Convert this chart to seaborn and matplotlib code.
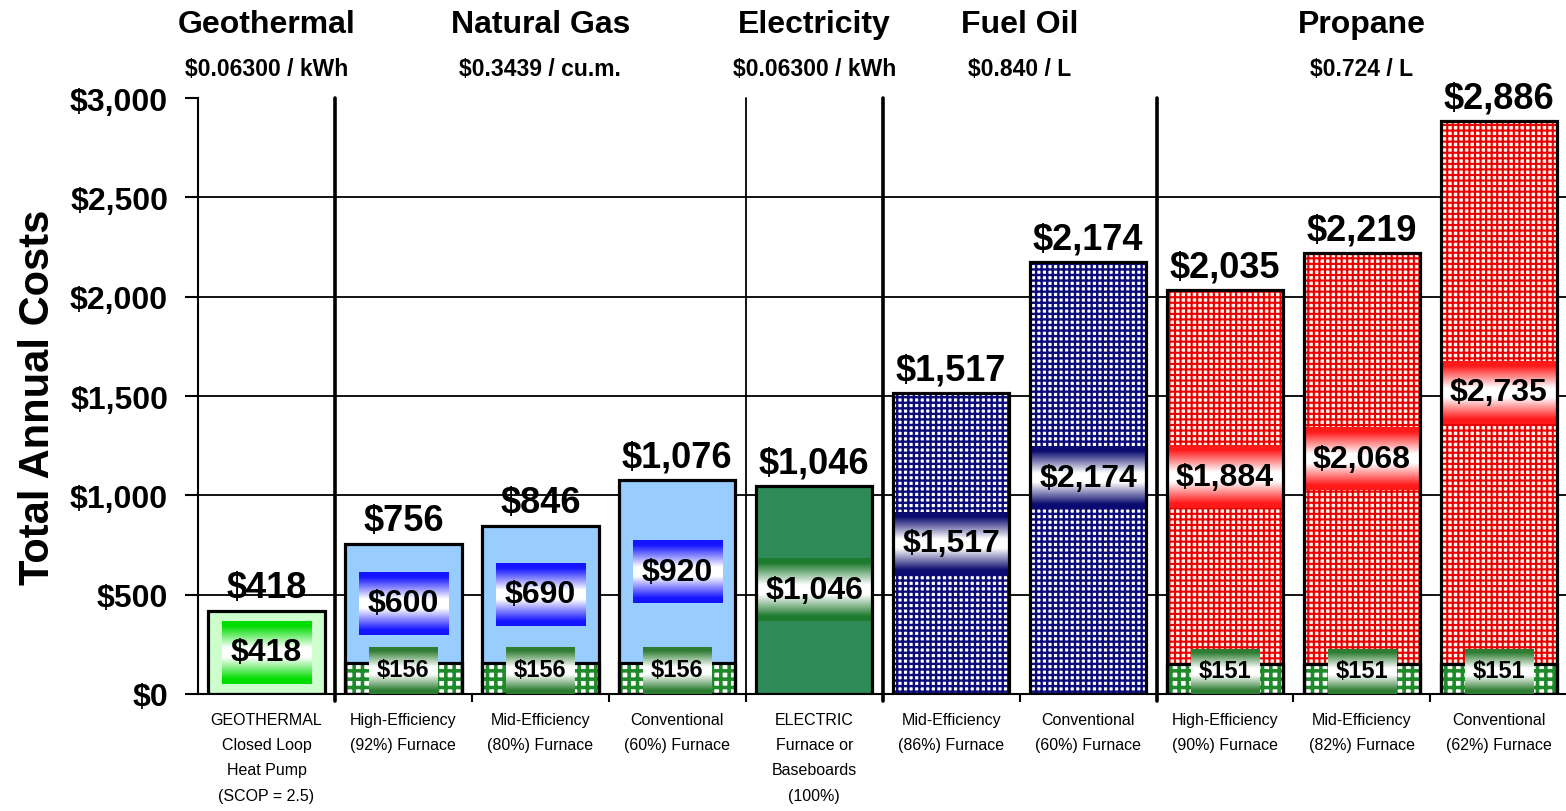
import matplotlib
matplotlib.use('Agg')
import matplotlib.pyplot as plt
import matplotlib.colors as mcolors
from matplotlib import font_manager
from matplotlib.transforms import blended_transform_factory
import numpy as np
import pandas as pd
import seaborn as sns

# chart data
systems = ['GEOTHERMAL\nClosed Loop\nHeat Pump\n(SCOP = 2.5)',
           'High-Efficiency\n(92%) Furnace',
           'Mid-Efficiency\n(80%) Furnace',
           'Conventional\n(60%) Furnace',
           'ELECTRIC\nFurnace or\nBaseboards\n(100%)',
           'Mid-Efficiency\n(86%) Furnace',
           'Conventional\n(60%) Furnace',
           'High-Efficiency\n(90%) Furnace',
           'Mid-Efficiency\n(82%) Furnace',
           'Conventional\n(62%) Furnace']
groups = ['Geothermal', 'Natural Gas', 'Natural Gas', 'Natural Gas', 'Electricity',
          'Fuel Oil', 'Fuel Oil', 'Propane', 'Propane', 'Propane']
fuel_cost = [418, 600, 690, 920, 1046, 1517, 2174, 1884, 2068, 2735]
elec_cost = [0, 156, 156, 156, 0, 0, 0, 151, 151, 151]
total_cost = [418, 756, 846, 1076, 1046, 1517, 2174, 2035, 2219, 2886]
group_names = ['Geothermal', 'Natural Gas', 'Electricity', 'Fuel Oil', 'Propane']
group_prices = ['$0.06300 / kWh', '$0.3439 / cu.m.', '$0.06300 / kWh', '$0.840 / L', '$0.724 / L']
y_ticks = [0, 500, 1000, 1500, 2000, 2500, 3000]

sns.set_style('white')
plt.rcParams['font.family'] = ['Liberation Sans', 'DejaVu Sans']
plt.rcParams['hatch.linewidth'] = 1.0
for k in ['text.color', 'axes.labelcolor', 'xtick.color', 'ytick.color']:
    plt.rcParams[k] = 'black'

installed = {f.name for f in font_manager.fontManager.ttflist}
narrow = 'Liberation Sans Narrow' in installed
cat_font = 'Liberation Sans Narrow' if narrow else 'Liberation Sans'
cat_size = 13 if narrow else 11.5

df = pd.DataFrame({'idx': range(len(systems)), 'group': groups, 'fuel': fuel_cost,
                   'elec': elec_cost, 'total': total_cost})

# face colour, hatch colour, hatch, hatch width
fill_style = {
    'Geothermal': ('#CCFFCC', None, '', 1.0),
    'Natural Gas': ('#99CCFF', None, '', 1.0),
    'Electricity': ('#2E8B57', None, '', 1.0),
    'Fuel Oil': ('white', '#0B0B7A', '+++', 1.7),
    'Propane': ('#FFF2EC', '#E80000', '+++', 1.5),
}
# label band colour, band width
band_style = {
    'Geothermal': ('#00DD00', 0.65),
    'Natural Gas': ('#1414FF', 0.65),
    'Electricity': ('#1E7B2E', 0.85),
    'Fuel Oil': ('#0B0B70', 0.85),
    'Propane': ('#FF1A1A', 0.85),
}


def gradient_band(ax, xc, w, yc, h, color, z):
    t = np.linspace(-1, 1, 101)
    m = np.clip((np.abs(t) - 0.15) / 0.7, 0, 1)
    rgb = np.array(mcolors.to_rgb(color))
    img = (1 - m)[:, None] * np.ones(3) + m[:, None] * rgb
    ax.imshow(img[:, None, :], extent=[xc - w / 2, xc + w / 2, yc - h / 2, yc + h / 2],
              aspect='auto', interpolation='bilinear', zorder=z)


def set_hatch_lw(p, lw):
    if hasattr(p, 'set_hatch_linewidth'):
        p.set_hatch_linewidth(lw)


fig, ax = plt.subplots(figsize=(15.66, 8.12), dpi=100)
fig.subplots_adjust(left=198 / 1566, right=1.0, bottom=117 / 812, top=713 / 812)

# fuel part (full bar fill)
n0 = len(ax.patches)
with plt.rc_context({'hatch.linewidth': 1.6}):
    sns.barplot(data=df, x='idx', y='total', color='white', width=0.85,
                errorbar=None, saturation=1, ax=ax)
for p, g in zip(ax.patches[n0:], groups):
    face, hcol, hatch, hlw = fill_style[g]
    p.set_facecolor(face)
    p.set_hatch(hatch)
    p.set_edgecolor(hcol if hcol else face)
    p.set_linewidth(0)
    p.set_zorder(2)
    set_hatch_lw(p, hlw)

# electrical part at the bottom
n1 = len(ax.patches)
with plt.rc_context({'hatch.linewidth': 2.6}):
    sns.barplot(data=df, x='idx', y='elec', color='white', width=0.85,
                errorbar=None, saturation=1, ax=ax)
for p, v in zip(ax.patches[n1:], elec_cost):
    p.set_facecolor('white')
    p.set_edgecolor('#1F8A2A')
    p.set_hatch('++')
    p.set_linewidth(0)
    p.set_zorder(2.2)
    set_hatch_lw(p, 2.6)
    p.set_visible(v > 0)

# outlines
for col in ['elec', 'total']:
    n2 = len(ax.patches)
    sns.barplot(data=df, x='idx', y=col, color='white', width=0.85,
                errorbar=None, saturation=1, ax=ax)
    for p, v in zip(ax.patches[n2:], df[col]):
        p.set_facecolor('none')
        p.set_edgecolor('black')
        p.set_linewidth(2.3)
        p.set_zorder(4)
        p.set_visible(v > 0)

# value labels
for i, row in df.iterrows():
    color, w = band_style[row.group]
    mid = row.elec + row.fuel / 2
    gradient_band(ax, i, w, mid, 315, color, 3)
    ax.text(i, mid, f'${row.fuel:,}', ha='center', va='center', fontsize=23,
            fontweight='bold', zorder=5)
    if row.elec > 0:
        gradient_band(ax, i, 0.5, row.elec * 0.75, row.elec * 1.5, '#2E7D32', 4.5)
        ax.text(i, row.elec * 0.8, f'${row.elec:,}', ha='center', va='center',
                fontsize=17, fontweight='bold', zorder=5)
    ax.annotate(f'${row.total:,}', (i, row.total), xytext=(0, 4), textcoords='offset points',
                ha='center', va='bottom', fontsize=26, fontweight='bold', zorder=5)

# grid and group separators
for v in y_ticks[1:-1]:
    ax.axhline(v, color='black', lw=1.3, zorder=1)
for i in range(len(groups) - 1):
    if groups[i] != groups[i + 1]:
        lw = 1.3 if groups[i + 1] == 'Electricity' else 2.6
        ax.axvline(i + 0.5, ymin=-0.012, ymax=1, color='black', lw=lw, zorder=1, clip_on=False)

# group titles above the plot
trans = blended_transform_factory(ax.transData, fig.transFigure)
for name, price in zip(group_names, group_prices):
    idx = [i for i, g in enumerate(groups) if g == name]
    xc = np.mean(idx)
    ax.text(xc, 1 - 25 / 812, name, transform=trans, ha='center', va='center',
            fontsize=23, fontweight='bold')
    ax.text(xc, 1 - 70 / 812, price, transform=trans, ha='center', va='center',
            fontsize=16.5, fontweight='bold')

# axes
ax.set_xlim(-0.5, 9.49)
ax.set_ylim(0, 3000)
ax.set_xticks(range(len(systems)), labels=systems)
ax.set_xticks(np.arange(0.5, len(systems) - 1, 1), minor=True)
ax.tick_params(axis='x', which='major', length=0, pad=13)
ax.tick_params(axis='x', which='minor', length=6, width=1.5, color='black', direction='out', bottom=True)
for lab in ax.get_xticklabels():
    lab.set_fontfamily(cat_font)
    lab.set_fontsize(cat_size)
    lab.set_linespacing(1.85)
ax.set_yticks(y_ticks, labels=[f'${v:,}' for v in y_ticks])
ax.tick_params(axis='y', length=9.5, width=1.5, color='black', direction='out', left=True,
               pad=12, labelsize=23)
for lab in ax.get_yticklabels():
    lab.set_fontweight('bold')
ax.set_xlabel('')
ax.set_ylabel('Total Annual Costs', fontsize=30, fontweight='bold', labelpad=9)

sns.despine(ax=ax, top=True, right=True)
for s in ['left', 'bottom']:
    ax.spines[s].set_color('black')
    ax.spines[s].set_linewidth(1.5)

fig.savefig('out.png', dpi=100)
